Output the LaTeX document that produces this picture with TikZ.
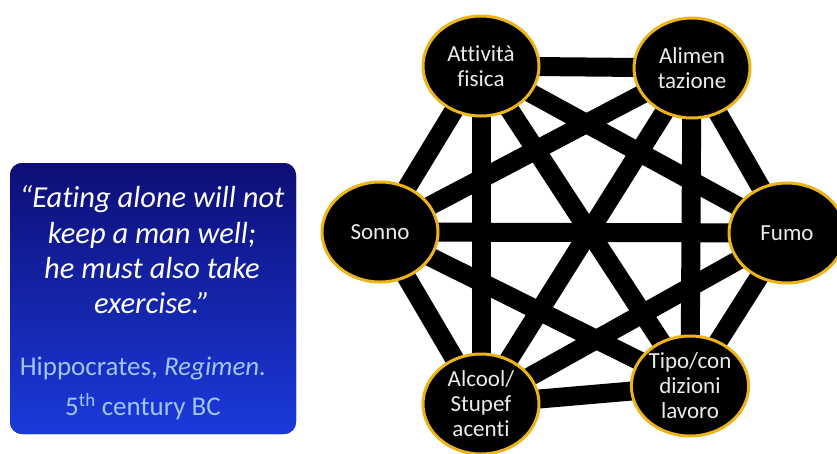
\documentclass[tikz,border=0pt]{standalone}
\usepackage{fontspec}
\setmainfont{Carlito}[Ligatures=NoCommon]
\usepackage{tikz}
\usetikzlibrary{
    calc,
    shapes.geometric
}
\definecolor{ringgold}{RGB}{236,180,24}
\definecolor{boxtop}{RGB}{14,14,118}
\definecolor{boxbottom}{RGB}{26,58,218}
\definecolor{citeblue}{RGB}{160,196,240}
\pgfdeclarelayer{edges}
\pgfsetlayers{edges,main}
\tikzset{
  factor/.style={ellipse, draw=ringgold, line width=3pt, fill=black, text=white!92!black,
    minimum width=116pt, minimum height=100pt, inner sep=0pt, align=center,
    font=\fontsize{23}{25}\selectfont},
  link/.style={line width=19pt, black}
}

\begin{document}
\begin{tikzpicture}[x=1pt, y=-1pt]
  \useasboundingbox (0,0) rectangle (837,453);

  % Quote box
  \fill[top color=boxtop, bottom color=boxbottom, rounded corners=12pt] (10,163) rectangle (296,434);
  \node[text=white, align=center, font=\fontsize{30.5}{35.3}\selectfont\itshape] (quote) at (152,250)
    {“Eating alone will not\\keep a man well;\\he must also take\\exercise.”};
  \node[text=citeblue, align=center, font=\fontsize{27}{40}\selectfont] (cite) at (143,388)
    {Hippocrates, \textit{Regimen.}\\5\textsuperscript{th} century BC};

  % Lifestyle factors
  \node[factor] (att) at (481,66) {Attività\\fisica};
  \node[factor] (ali) at (692,68) {Alimen\\tazione};
  \node[factor] (fum) at (787,233) {Fumo};
  \node[factor] (tip) at (690,386) {Tipo/con\\dizioni\\lavoro};
  \node[factor] (alc) at (481,404) {Alcool/\\Stupef\\acenti};
  \node[factor] (son) at (380,232) {Sonno};

  % Links, every factor with every other
  \begin{pgfonlayer}{edges}
    \draw[link] (att.center) -- (ali.center);
    \draw[link] (att.center) -- (fum.center);
    \draw[link] (att.center) -- (tip.center);
    \draw[link] (att.center) -- (alc.center);
    \draw[link] (att.center) -- (son.center);
    \draw[link] (ali.center) -- (fum.center);
    \draw[link] (ali.center) -- (tip.center);
    \draw[link] (ali.center) -- (alc.center);
    \draw[link] (ali.center) -- (son.center);
    \draw[link] (fum.center) -- (tip.center);
    \draw[link] (fum.center) -- (alc.center);
    \draw[link] (fum.center) -- (son.center);
    \draw[link] (tip.center) -- (alc.center);
    \draw[link] (tip.center) -- (son.center);
    \draw[link] (alc.center) -- (son.center);
  \end{pgfonlayer}
\end{tikzpicture}
\end{document}
